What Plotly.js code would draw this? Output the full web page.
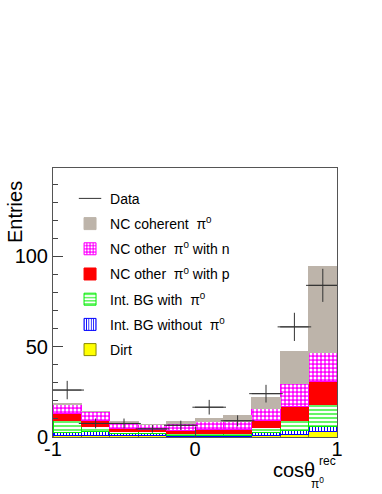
<!DOCTYPE html>
<html>
<head>
<meta charset="utf-8">
<script src="https://cdn.plot.ly/plotly-3.0.1.min.js"></script>
<style>
  html, body { margin: 0; padding: 0; background: #fff; }
  #chart { width: 382px; height: 494px; }
</style>
</head>
<body>
<div id="chart"></div>
<script>
// bin centres of cos(theta_pi0) histogram, 10 bins of 0.2
const binCenters = [-0.9, -0.7, -0.5, -0.3, -0.1, 0.1, 0.3, 0.5, 0.7, 0.9]

// stacked MC components, bottom to top
const dirt        = [1.0, 0.9, 0.6, 0.6, 0.4, 0.3, 0.3, 0.9, 1.5, 3.3]
const bgNoPi0     = [1.6, 2.1, 1.1, 1.4, 0.7, 0.3, 0.3, 1.5, 2.2, 2.3]
const bgWithPi0   = [6.8, 2.7, 1.3, 1.0, 0.9, 1.4, 1.4, 2.8, 5.6, 12.5]
const ncOtherP    = [3.5, 3.4, 1.8, 1.3, 1.5, 1.9, 2.3, 4.2, 7.4, 12.5]
const ncOtherN    = [5.1, 5.0, 3.2, 2.4, 4.1, 4.6, 4.2, 6.5, 12.9, 16.3]
const ncCoherent  = [0.3, 0.3, 0.5, 0.3, 0.9, 1.9, 3.2, 6.0, 17.6, 47.5]

const dataCounts  = [26, 7.5, 7.5, 4.5, 6.5, 16.5, 9, 24, 61, 84]

const Plotly = window.Plotly
const font = 'Liberation Sans, Arial, Helvetica, sans-serif'

const barTrace = (name, rank, y, color, line, pattern) => ({
  type: 'bar',
  name,
  x: binCenters,
  y,
  width: 0.2,
  legendgroup: name,
  legendrank: rank,
  marker: {
    color,
    line: { color: line, width: 1 },
    pattern: pattern || { shape: '' },
  },
})

const data = [
  barTrace('Dirt', 7, dirt, '#ffff00', '#8a8a00'),
  barTrace('Int. BG without  π<sup>0</sup>', 6, bgNoPi0, '#ffffff', '#0000ff',
    { shape: '|', fgcolor: '#0000ff', bgcolor: '#ffffff', size: 3, solidity: 0.35 }),
  barTrace('Int. BG with  π<sup>0</sup>', 5, bgWithPi0, '#ffffff', '#00ee00',
    { shape: '-', fgcolor: '#00ee00', bgcolor: '#ffffff', size: 4, solidity: 0.3 }),
  barTrace('NC other  π<sup>0</sup> with p', 4, ncOtherP, '#ff0000', '#ff0000'),
  barTrace('NC other  π<sup>0</sup> with n', 3, ncOtherN, '#ff00ff', '#ff00ff',
    { shape: '.', fgcolor: '#ffffff', bgcolor: '#ff00ff', size: 4, solidity: 0.45 }),
  barTrace('NC coherent  π<sup>0</sup>', 2, ncCoherent, '#bdb4aa', '#bdb4aa'),
  {
    type: 'scatter',
    mode: 'markers',
    name: 'Data',
    legendgroup: 'Data',
    legendrank: 1,
    x: binCenters,
    y: dataCounts,
    marker: { symbol: 'line-ew-open', size: 24, color: '#333', line: { color: '#333', width: 1 } },
    error_x: { type: 'constant', value: 0.1, width: 0, thickness: 1, color: '#333' },
    error_y: { type: 'data', array: dataCounts.map(v => Math.sqrt(v)), width: 0, thickness: 1, color: '#333' },
  },
]

const layout = {
  width: 382,
  height: 494,
  margin: { l: 53, r: 45, t: 168, b: 57 },
  paper_bgcolor: '#fff',
  plot_bgcolor: '#fff',
  barmode: 'stack',
  bargap: 0,
  font: { family: font, color: '#000' },
  showlegend: true,
  legend: {
    x: 0.06, y: 0.945, xanchor: 'left', yanchor: 'top',
    traceorder: 'grouped',
    tracegroupgap: 4,
    bgcolor: 'rgba(255,255,255,0)',
    font: { family: font, size: 14, color: '#000' },
  },
  xaxis: {
    range: [-1, 1],
    tickvals: [-1, 0, 1],
    ticktext: ['-1', '0', '1'],
    ticks: 'inside',
    ticklen: 10,
    tickcolor: '#444',
    ticklabelstandoff: -6,
    tickfont: { family: font, size: 20 },
    showline: true, mirror: true, linecolor: '#555', linewidth: 1,
    showgrid: false, zeroline: false,
  },
  yaxis: {
    range: [0, 149],
    tickvals: [0, 50, 100],
    ticks: 'inside',
    ticklen: 10,
    tickcolor: '#444',
    minor: { dtick: 10, ticks: 'inside', ticklen: 5, tickcolor: '#444' },
    tickfont: { family: font, size: 20 },
    showline: true, mirror: true, linecolor: '#555', linewidth: 1,
    showgrid: false, zeroline: false,
  },
  annotations: [
    { text: 'Entries', textangle: -90, xref: 'paper', yref: 'paper', x: -0.134, y: 0.836,
      xanchor: 'center', yanchor: 'middle', showarrow: false, font: { family: font, size: 20 } },
    { text: 'cosθ', xref: 'paper', yref: 'paper', x: 0.93, y: -0.123,
      xanchor: 'right', yanchor: 'middle', showarrow: false, font: { family: font, size: 20 } },
    { text: 'rec', xref: 'paper', yref: 'paper', x: 0.93, y: -0.089,
      xanchor: 'left', yanchor: 'middle', showarrow: false, font: { family: font, size: 12 } },
    { text: 'π<sup>0</sup>', xref: 'paper', yref: 'paper', x: 0.9, y: -0.172,
      xanchor: 'left', yanchor: 'middle', showarrow: false, font: { family: font, size: 12 } },
  ],
}

Plotly.newPlot('chart', data, layout, { displayModeBar: false, staticPlot: true })
</script>
</body>
</html>
